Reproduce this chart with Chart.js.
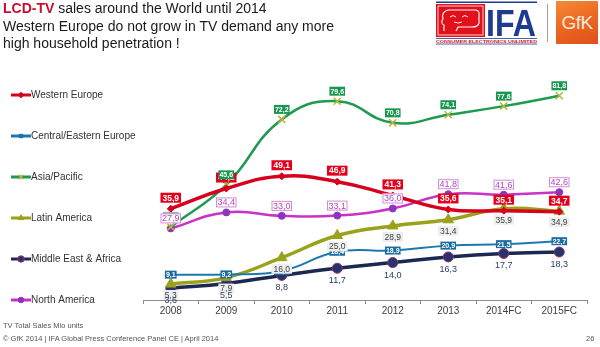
<!DOCTYPE html>
<html>
<head>
<meta charset="utf-8">
<script src="https://cdn.jsdelivr.net/npm/chart.js@4.4.1/dist/chart.umd.min.js"></script>
<style>
body { margin: 0; background: #fff; font-family: "Liberation Sans", Arial, sans-serif; }
#wrap { position: relative; width: 600px; height: 347px; overflow: hidden; background: #fff; }
#chartBox { position: absolute; left: 0; top: 0; width: 600px; height: 347px; }
.title { position: absolute; left: 3px; top: 0; font-size: 14px; line-height: 17.5px; color: #1a1a1a; white-space: nowrap; }
.title b { color: #c8102e; }
.sep { position: absolute; left: 547px; top: 4px; width: 1px; height: 38px; background: #a0a0a0; }
.gfk { position: absolute; left: 556px; top: 1px; width: 42px; height: 43px;
       background: linear-gradient(160deg, #f58a3a 0%, #ec6a22 45%, #e0501a 100%);
       color: #fbe9dc; font-size: 19px; line-height: 43px; text-align: center; letter-spacing: -0.5px; }
.ifa { position: absolute; left: 436px; top: 1px; }
.note { position: absolute; left: 3px; font-size: 7.5px; color: #555; white-space: nowrap; }
.page { position: absolute; left: 586px; top: 334px; font-size: 7.5px; color: #555; }
</style>
</head>
<body>
<div id="wrap">
  <div id="chartBox"><canvas id="lcdChart"></canvas></div>
  <div class="title"><b>LCD-TV</b> sales around the World until 2014<br>Western Europe do not grow in TV demand any more<br>high household penetration !</div>
  <svg class="ifa" width="104" height="44" viewBox="0 0 104 44">
    <rect x="0" y="0.5" width="101" height="1.5" fill="#1d3c8f"/>
    <rect x="0" y="3" width="49" height="33" fill="#e2101b"/>
    <rect x="2" y="5" width="45" height="29" fill="none" stroke="#fff" stroke-width="0.8"/>
    <path d="M8 30 L8 24 Q4 22 7 18 Q5 11 12 9 L40 9 Q44 10 43 15 L43 22 Q42 26 36 26 L22 26 L20 30" fill="none" stroke="#fff" stroke-width="1.1"/>
    <path d="M14 16 q3 -3 6 0 M26 16 q3 -3 6 0 M18 21 q4 2 8 0" fill="none" stroke="#fff" stroke-width="0.9"/>
    <text x="50" y="35" font-family="Liberation Sans Narrow, Liberation Sans, Arial" font-weight="bold" font-size="36" fill="#1d3c8f" textLength="50" lengthAdjust="spacingAndGlyphs">IFA</text>
    <rect x="0" y="37" width="101" height="0.8" fill="#1d3c8f"/>
    <text x="0" y="41.6" font-family="Liberation Sans" font-weight="bold" font-size="4" fill="#e2101b" textLength="101" lengthAdjust="spacingAndGlyphs">CONSUMER ELECTRONICS UNLIMITED</text>
    <rect x="0" y="42.6" width="101" height="0.8" fill="#1d3c8f"/>
  </svg>
  <div class="sep"></div>
  <div class="gfk">GfK</div>
  <div class="note" style="top:321px">TV Total Sales Mio units</div>
  <div class="note" style="top:334px">© GfK 2014 | IFA Global Press Conference Panel CE | April 2014</div>
  <div class="page">26</div>
</div>
<script>
// TV sales in million units per region
const years = ['2008', '2009', '2010', '2011', '2012', '2013', '2014FC', '2015FC'];
const regionNames = ['Western Europe', 'Central/Eastern Europe', 'Asia/Pacific', 'Latin America', 'Middle East & Africa', 'North America'];
const westernEurope = [35.9, 44.1, 49.1, 46.9, 41.3, 35.6, 35.1, 34.7];
const centralEasternEurope = [9.1, 9.2, 10.6, 18.4, 18.9, 20.9, 21.5, 22.7];
const asiaPacific = [28.5, 45.6, 72.2, 79.6, 70.8, 74.1, 77.6, 81.8];
const latinAmerica = [5.3, 7.9, 16.0, 25.0, 28.9, 31.4, 35.9, 34.9];
const middleEastAfrica = [3.6, 5.5, 8.8, 11.7, 14.0, 16.3, 17.7, 18.3];
const northAmerica = [27.9, 34.4, 33.0, 33.1, 36.0, 41.8, 41.6, 42.6];

Chart.defaults.font.family = '"Liberation Sans", Arial, sans-serif';

// look of the value boxes, one entry per dataset
var boxStyles = [
    { bg: '#e2001a', border: null, color: '#fff', font: 'bold 8.5px "Liberation Sans"', h: 10, padX: 2, dy: -11 },
    { bg: '#1a6c9e', border: null, color: '#fff', font: 'bold 7px "Liberation Sans"', h: 8, padX: 1, dy: 0 },
    { bg: '#1a9650', border: null, color: '#fff', font: 'bold 7px "Liberation Sans"', h: 9, padX: 1, dy: -10 },
    { bg: '#eeeeee', border: null, color: '#404040', font: '8.5px "Liberation Sans"', h: 10, padX: 2, dy: 11 },
    { bg: null, border: null, color: '#2b3a66', font: '9px "Liberation Sans"', h: 10, padX: 1, dy: 12 },
    { bg: '#ffffff', border: '#d68ad8', color: '#b348bf', font: '9px "Liberation Sans"', h: 10, padX: 1.5, dy: -10 }
];

function fmt(v) {
    return v.toFixed(1).replace('.', ',');
}

var valueBoxes = {
    id: 'valueBoxes',
    afterDatasetsDraw: function(chart) {
        var ctx = chart.ctx;
        chart.data.datasets.forEach(function(ds, i) {
            var st = boxStyles[i];
            var meta = chart.getDatasetMeta(i);
            meta.data.forEach(function(pt, j) {
                var txt = fmt(ds.data[j]);
                ctx.save();
                ctx.font = st.font;
                var w = ctx.measureText(txt).width + st.padX * 2;
                var cx = pt.x, cy = pt.y + st.dy;
                if (st.bg) {
                    ctx.fillStyle = st.bg;
                    ctx.fillRect(cx - w / 2, cy - st.h / 2, w, st.h);
                }
                if (st.border) {
                    ctx.strokeStyle = st.border;
                    ctx.lineWidth = 1;
                    ctx.strokeRect(cx - w / 2 + 0.5, cy - st.h / 2 + 0.5, w - 1, st.h - 1);
                }
                ctx.fillStyle = st.color;
                ctx.textAlign = 'center';
                ctx.textBaseline = 'middle';
                ctx.fillText(txt, cx, cy + 0.5);
                ctx.restore();
            });
        });
    }
};

// legend column on the left: line sample, marker, name
var sideLegend = {
    id: 'sideLegend',
    afterDraw: function(chart) {
        var ctx = chart.ctx;
        chart.data.datasets.forEach(function(ds, i) {
            var y = 95 + i * 41;
            ctx.save();
            ctx.strokeStyle = ds.borderColor;
            ctx.lineWidth = 3;
            ctx.beginPath();
            ctx.moveTo(11, y);
            ctx.lineTo(31, y);
            ctx.stroke();
            ctx.fillStyle = ds.pointBackgroundColor;
            ctx.strokeStyle = ds.pointBorderColor;
            ctx.lineWidth = ds.pointBorderWidth;
            Chart.helpers.drawPoint(ctx, {
                pointStyle: ds.pointStyle,
                radius: Math.min(ds.pointRadius, 4) * 0.8,
                rotation: 0,
                borderWidth: ds.pointBorderWidth
            }, 21, y);
            ctx.fillStyle = '#333';
            ctx.font = '10px "Liberation Sans"';
            ctx.textAlign = 'left';
            ctx.textBaseline = 'middle';
            ctx.fillText(ds.label, 31, y + 0.5);
            ctx.restore();
        });
    }
};

function series(idx, values, color, width, style, radius, fill, edge, edgeWidth) {
    return {
        label: regionNames[idx],
        data: values,
        borderColor: color,
        borderWidth: width,
        tension: 0.45,
        fill: false,
        pointStyle: style,
        pointRadius: radius,
        pointBackgroundColor: fill,
        pointBorderColor: edge,
        pointBorderWidth: edgeWidth
    };
}

var lcdChart = new Chart(document.getElementById('lcdChart'), {
    type: 'line',
    data: {
        labels: years,
        datasets: [
            series(0, westernEurope, '#d7001d', 3.5, 'rectRot', 3.5, '#d7001d', '#d7001d', 1),
            series(1, centralEasternEurope, '#1e78b0', 2, 'rect', 3, '#1e6ea8', '#1e6ea8', 1),
            series(2, asiaPacific, '#1f9a4f', 2.5, 'crossRot', 5, '#b8b43a', '#b8b43a', 1.5),
            series(3, latinAmerica, '#9aa11b', 3.5, 'triangle', 6, '#9aa11b', '#9aa11b', 1),
            series(4, middleEastAfrica, '#1b2852', 3.5, 'circle', 5, '#243470', '#9b2d5a', 1),
            series(5, northAmerica, '#c832c8', 2.5, 'circle', 3.5, '#8e35c0', '#8e35c0', 1)
        ]
    },
    options: {
        responsive: true,
        maintainAspectRatio: false,
        animation: false,
        layout: { padding: { left: 143, right: 13, top: 51, bottom: 29 } },
        scales: {
            x: {
                offset: true,
                grid: { offset: true, drawOnChartArea: false, drawTicks: true, tickLength: 4, color: '#8c8c8c' },
                border: { color: '#8c8c8c', width: 1 },
                ticks: { color: '#404040', font: { size: 10 }, padding: 1, maxRotation: 0 }
            },
            y: { display: false, min: -1.2, max: 100 }
        },
        plugins: {
            legend: { display: false },
            tooltip: { enabled: false }
        }
    },
    plugins: [valueBoxes, sideLegend]
});
</script>
</body>
</html>
